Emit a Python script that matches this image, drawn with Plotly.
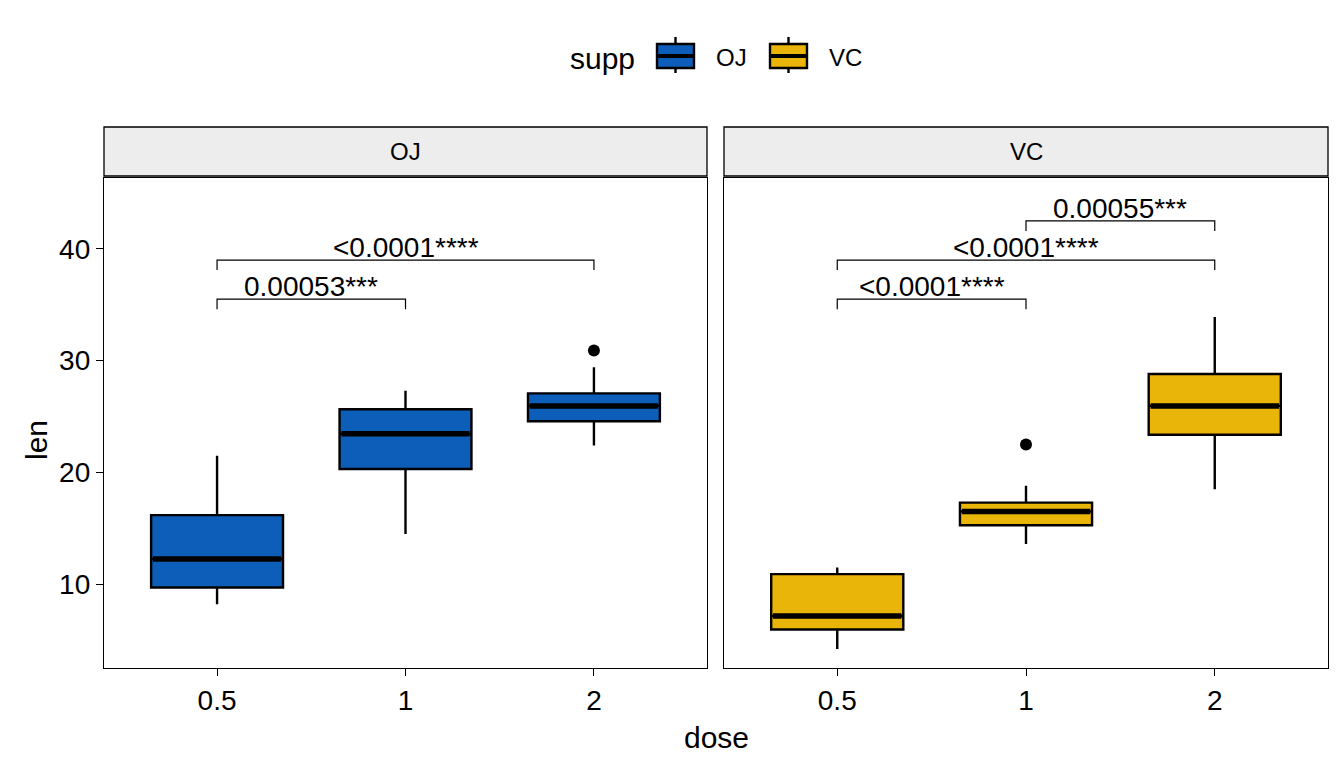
import plotly.graph_objects as go

# ---- data ----
doses = ["0.5", "1", "2"]
supps = ["OJ", "VC"]
colors = {"OJ": "#0C5EB8", "VC": "#E9B509"}

oj_q1 = [9.7, 20.3, 24.575]
oj_median = [12.25, 23.45, 25.95]
oj_q3 = [16.18, 25.65, 27.075]
oj_low = [8.2, 14.5, 22.4]
oj_high = [21.5, 27.3, 29.4]
oj_out_x = ["2"]
oj_out_y = [30.9]

vc_q1 = [5.95, 15.275, 23.375]
vc_median = [7.15, 16.5, 25.95]
vc_q3 = [10.9, 17.3, 28.8]
vc_low = [4.2, 13.6, 18.5]
vc_high = [11.5, 18.8, 33.9]
vc_out_x = ["1"]
vc_out_y = [22.5]

# comparisons: (group1, group2, bracket y, label)
oj_comp_g1 = ["0.5", "0.5"]
oj_comp_g2 = ["1", "2"]
oj_comp_y = [35.5, 39.0]
oj_comp_lab = ["0.00053***", "<0.0001****"]

vc_comp_g1 = ["0.5", "0.5", "1"]
vc_comp_g2 = ["1", "2", "2"]
vc_comp_y = [35.5, 39.0, 42.5]
vc_comp_lab = ["<0.0001****", "<0.0001****", "0.00055***"]

y_ticks = [10, 20, 30, 40]
y_range = [2.5, 46.34]
FONT = "Liberation Sans, Arial, sans-serif"

stats = {
    "OJ": dict(q1=oj_q1, med=oj_median, q3=oj_q3, lo=oj_low, hi=oj_high,
               ox=oj_out_x, oy=oj_out_y, g1=oj_comp_g1, g2=oj_comp_g2,
               cy=oj_comp_y, lab=oj_comp_lab),
    "VC": dict(q1=vc_q1, med=vc_median, q3=vc_q3, lo=vc_low, hi=vc_high,
               ox=vc_out_x, oy=vc_out_y, g1=vc_comp_g1, g2=vc_comp_g2,
               cy=vc_comp_y, lab=vc_comp_lab),
}

pos = {d: i for i, d in enumerate(doses)}
BW = 0.7

fig = go.Figure()
annotations = []
shapes = []

for k, s in enumerate(supps):
    st = stats[s]
    xa = "x" if k == 0 else "x2"
    ya = "y" if k == 0 else "y2"
    xs = [pos[d] for d in doses]
    fig.add_trace(go.Box(
        x=xs, q1=st["q1"], median=st["med"], q3=st["q3"],
        lowerfence=st["lo"], upperfence=st["hi"],
        width=BW, whiskerwidth=0, fillcolor=colors[s],
        line=dict(color="black", width=2.4), name=s,
        legendgroup=s, showlegend=False, boxpoints=False,
        xaxis=xa, yaxis=ya, hoverinfo="skip",
    ))
    # thick median lines
    for i, d in enumerate(doses):
        fig.add_trace(go.Scatter(
            x=[pos[d] - BW / 2 + 0.01, pos[d] + BW / 2 - 0.01],
            y=[st["med"][i], st["med"][i]], mode="lines",
            line=dict(color="black", width=5.5), showlegend=False,
            xaxis=xa, yaxis=ya, hoverinfo="skip"))
    # outliers
    fig.add_trace(go.Scatter(
        x=[pos[d] for d in st["ox"]], y=st["oy"], mode="markers",
        marker=dict(color="black", size=12), showlegend=False,
        xaxis=xa, yaxis=ya, hoverinfo="skip"))
    # brackets
    for g1, g2, cy, lab in zip(st["g1"], st["g2"], st["cy"], st["lab"]):
        x1, x2 = pos[g1], pos[g2]
        fig.add_trace(go.Scatter(
            x=[x1, x1, x2, x2], y=[cy - 0.9, cy, cy, cy - 0.9],
            mode="lines", line=dict(color="black", width=1.2),
            showlegend=False, xaxis=xa, yaxis=ya, hoverinfo="skip"))
        annotations.append(dict(
            x=(x1 + x2) / 2, y=cy, xref=xa, yref=ya, text=lab,
            showarrow=False, xanchor="center", yanchor="bottom", yshift=-5,
            font=dict(size=28, color="black", family=FONT)))

W, H = 1344, 768
p1 = [104 / W, 707 / W]
p2 = [724 / W, 1328 / W]
ydom = [1 - 668 / H, 1 - 178 / H]
strip_top = 1 - 127 / H
strip_bot = 1 - 176 / H


def paper_text(x, y, text, size, xanchor="center", angle=0):
    annotations.append(dict(x=x / W, y=1 - y / H, xref="paper", yref="paper",
                            text=text, showarrow=False, xanchor=xanchor,
                            yanchor="middle", textangle=angle,
                            font=dict(size=size, color="black", family=FONT)))


for dom, lab in zip([p1, p2], supps):
    shapes.append(dict(type="rect", xref="paper", yref="paper",
                       x0=dom[0], x1=dom[1], y0=strip_bot, y1=strip_top,
                       fillcolor="#EDEDED", line=dict(color="black", width=1.3),
                       layer="below"))
    paper_text((dom[0] + dom[1]) / 2 * W, 152, lab, 24)

paper_text(716, 737, "dose", 30)
paper_text(36, 440, "len", 30, angle=-90)

# ---- legend (drawn as keys) ----
paper_text(568, 58, "supp", 30, xanchor="left")
key_x = {"OJ": 657, "VC": 770}
for s in supps:
    x0 = key_x[s]
    x1 = x0 + 37
    xm = (x0 + x1) / 2
    shapes.append(dict(type="line", xref="paper", yref="paper",
                       x0=xm / W, x1=xm / W, y0=1 - 73 / H, y1=1 - 37 / H,
                       line=dict(color="black", width=2.4)))
    shapes.append(dict(type="rect", xref="paper", yref="paper",
                       x0=x0 / W, x1=x1 / W, y0=1 - 68 / H, y1=1 - 44 / H,
                       fillcolor=colors[s], line=dict(color="black", width=2.4)))
    shapes.append(dict(type="line", xref="paper", yref="paper",
                       x0=x0 / W, x1=x1 / W, y0=1 - 56 / H, y1=1 - 56 / H,
                       line=dict(color="black", width=4)))
    paper_text(x1 + 20, 57, s, 24, xanchor="left")

xcommon = dict(range=[-0.6, 2.6], tickvals=[0, 1, 2], ticktext=doses,
               showline=True, linecolor="black", linewidth=1.3, mirror=True,
               ticks="outside", ticklen=7, tickwidth=1.3, tickcolor="black",
               showgrid=False, zeroline=False, automargin=False,
               tickfont=dict(size=28, color="black", family=FONT))
ycommon = dict(range=y_range, domain=ydom, showline=True, linecolor="black",
               linewidth=1.3, mirror=True, showgrid=False, zeroline=False,
               automargin=False)

fig.update_layout(
    width=W, height=H, margin=dict(l=0, r=0, t=0, b=0),
    plot_bgcolor="white", paper_bgcolor="white",
    xaxis=dict(domain=p1, anchor="y", **xcommon),
    xaxis2=dict(domain=p2, anchor="y2", **xcommon),
    yaxis=dict(anchor="x", tickvals=y_ticks, ticks="outside",
               ticklen=7, tickwidth=1.3, tickcolor="black",
               tickfont=dict(size=28, color="black", family=FONT), **ycommon),
    yaxis2=dict(anchor="x2", matches="y", showticklabels=False, ticks="", **ycommon),
    shapes=shapes, annotations=annotations,
    showlegend=False, boxmode="overlay",
)

fig.write_html("out.html")
